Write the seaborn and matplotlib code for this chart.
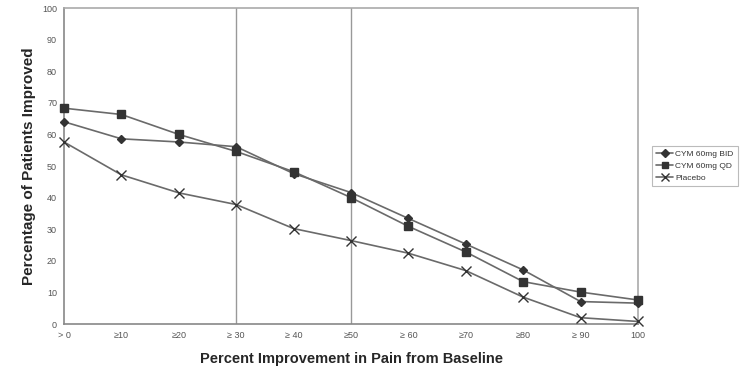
import matplotlib
matplotlib.use("Agg")
import matplotlib.pyplot as plt
import seaborn as sns
import pandas as pd

# data
categories = ["> 0", "≥10", "≥20", "≥ 30", "≥ 40", "≥50", "≥ 60", "≥70", "≥80", "≥ 90", "100"]
bid = [64, 58.6, 57.6, 56.1, 47.6, 41.6, 33.4, 25.3, 17.1, 7.1, 6.6]
qd = [68.3, 66.3, 60, 54.6, 48.2, 40, 30.9, 22.8, 13.4, 10.1, 7.6]
placebo = [57.6, 47.2, 41.5, 37.8, 30.2, 26.4, 22.4, 16.9, 8.5, 2.0, 0.8]
series_names = ["CYM 60mg BID", "CYM 60mg QD", "Placebo"]

df = pd.DataFrame({
    "x": list(range(len(categories))) * 3,
    "value": bid + qd + placebo,
    "series": [series_names[0]] * len(bid) + [series_names[1]] * len(qd) + [series_names[2]] * len(placebo),
})

sns.set_style("white")
plt.rcParams["font.family"] = ["Liberation Sans", "DejaVu Sans"]

fig = plt.figure(figsize=(7.43, 3.68), dpi=100)
ax = fig.add_axes([64 / 743, 1 - 324 / 368, (638 - 64) / 743, (324 - 8) / 368])

markers = {"CYM 60mg BID": "D", "CYM 60mg QD": "s", "Placebo": "x"}
sizes = {"CYM 60mg BID": 4.5, "CYM 60mg QD": 6, "Placebo": 6.5}
for name in series_names:
    sub = df[df["series"] == name]
    sns.lineplot(data=sub, x="x", y="value", ax=ax, color="#6a6a6a", linewidth=1.2,
                 marker=markers[name], markersize=sizes[name], markerfacecolor="#333333",
                 markeredgecolor="#333333", markeredgewidth=1.0,
                 label=name, clip_on=False, zorder=3)

# vertical reference lines at >=30 and >=50
for idx in [3, 5]:
    ax.axvline(idx, color="#999999", linewidth=1.0, zorder=0)

ax.set_xlim(0, len(categories) - 1)
ax.set_ylim(0, 100)
ax.set_xticks(range(len(categories)))
ax.set_xticklabels(categories)
ax.set_yticks(range(0, 101, 10))
ax.tick_params(axis="both", labelsize=6.5, labelcolor="#555555", colors="#999999", length=3, width=0.8)
ax.tick_params(axis="x", direction="in", pad=5)
ax.tick_params(axis="y", direction="out", pad=2)
for side in ["top", "right"]:
    ax.spines[side].set_color("#aaaaaa")
    ax.spines[side].set_linewidth(1.2)
for side in ["left", "bottom"]:
    ax.spines[side].set_color("#888888")
    ax.spines[side].set_linewidth(1.2)

ax.set_xlabel("Percent Improvement in Pain from Baseline", fontsize=10.5, fontweight="bold", labelpad=9)
ax.set_ylabel("Percentage of Patients Improved", fontsize=11, fontweight="bold", labelpad=4)

leg = ax.legend(loc="upper left", bbox_to_anchor=(652 / 743, 1 - 146 / 368), bbox_transform=fig.transFigure,
                fontsize=6, frameon=True, fancybox=False, borderpad=0.5, handlelength=2.0,
                handletextpad=0.3, labelspacing=0.5, borderaxespad=0, markerscale=0.8)
leg.get_frame().set_edgecolor("#aaaaaa")
leg.get_frame().set_linewidth(0.8)
for t in leg.get_texts():
    t.set_color("#333333")

plt.savefig("out.png", dpi=100)
